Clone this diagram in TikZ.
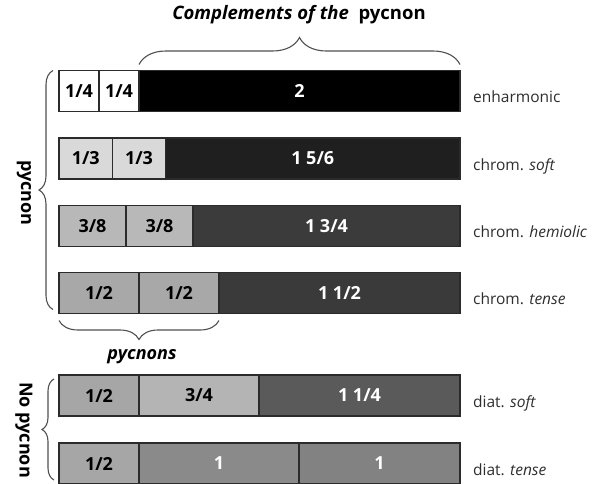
\documentclass[tikz,border=0pt]{standalone}
\usepackage{fontspec}
\setmainfont{Open Sans}
\usetikzlibrary{positioning,decorations.pathreplacing}

\definecolor{segline}{HTML}{2B2B2B}
\definecolor{braceline}{HTML}{505050}
\definecolor{lbltext}{HTML}{2E2E2E}
\definecolor{softpyc}{HTML}{D9D9D9}
\definecolor{softrest}{HTML}{1F1F1F}
\definecolor{hempyc}{HTML}{B8B8B8}
\definecolor{hemrest}{HTML}{3B3B3B}
\definecolor{tensepyc}{HTML}{A8A8A8}
\definecolor{tenserest}{HTML}{3A3A3A}
\definecolor{diathalf}{HTML}{A6A6A6}
\definecolor{diatthree}{HTML}{B4B4B4}
\definecolor{diatrest}{HTML}{5A5A5A}
\definecolor{diatone}{HTML}{8A8A8A}
\definecolor{diattwo}{HTML}{828282}

\tikzset{
  seg/.style={draw=segline, line width=1.4pt, minimum height=41pt, inner sep=0pt,
    outer sep=0pt, anchor=west, font=\fontsize{18}{21}\selectfont\bfseries},
  darkseg/.style={seg, text=white},
  lbl/.style={anchor=base west, inner sep=0pt, text=lbltext, font=\fontsize{15.5}{18}\selectfont},
  side/.style={rotate=-90, font=\fontsize{18}{21}\selectfont\bfseries},
  brc/.style={decorate, decoration={brace, amplitude=#1}, draw=braceline, line width=1.1pt},
}

\begin{document}
\begin{tikzpicture}[x=1pt,y=-1pt]
\useasboundingbox (0,0) rectangle (599,483);
% enharmonic
\node[seg, fill=white, minimum width=40pt] (e1) at (59,91) {1/4};
\node[seg, fill=white, minimum width=40pt, right=0pt of e1] (e2) {1/4};
\node[darkseg, fill=black, minimum width=321pt, right=0pt of e2] (e3) {2};
\node[lbl] (le) at ([shift={(13pt,9pt)}]e3.south east) {enharmonic};
% chromatic soft
\node[seg, fill=softpyc, minimum width=53.5pt] (s1) at (59,158.5) {1/3};
\node[seg, fill=softpyc, minimum width=53pt, right=0pt of s1] (s2) {1/3};
\node[darkseg, fill=softrest, minimum width=294.5pt, right=0pt of s2] (s3) {1 5/6};
\node[lbl] (ls) at ([shift={(13pt,9pt)}]s3.south east) {chrom. \textit{soft}};
% chromatic hemiolic
\node[seg, fill=hempyc, minimum width=67pt] (h1) at (59,226) {3/8};
\node[seg, fill=hempyc, minimum width=67pt, right=0pt of h1] (h2) {3/8};
\node[darkseg, fill=hemrest, minimum width=267pt, right=0pt of h2] (h3) {1 3/4};
\node[lbl] (lh) at ([shift={(13pt,9pt)}]h3.south east) {chrom. \textit{hemiolic}};
% chromatic tense
\node[seg, fill=tensepyc, minimum width=80pt] (t1) at (59,293) {1/2};
\node[seg, fill=tensepyc, minimum width=80pt, right=0pt of t1] (t2) {1/2};
\node[darkseg, fill=tenserest, minimum width=241pt, right=0pt of t2] (t3) {1 1/2};
\node[lbl] (lt) at ([shift={(13pt,9pt)}]t3.south east) {chrom. \textit{tense}};
% diatonic soft
\node[seg, fill=diathalf, minimum width=80pt] (d1) at (59,395.5) {1/2};
\node[seg, fill=diatthree, minimum width=120pt, right=0pt of d1] (d2) {3/4};
\node[darkseg, fill=diatrest, minimum width=201pt, right=0pt of d2] (d3) {1 1/4};
\node[lbl] (ld) at ([shift={(13pt,9pt)}]d3.south east) {diat. \textit{soft}};
% diatonic tense
\node[seg, fill=diathalf, minimum width=80pt] (g1) at (59,463.5) {1/2};
\node[darkseg, fill=diatone, minimum width=160pt, right=0pt of g1] (g2) {1};
\node[darkseg, fill=diattwo, minimum width=161pt, right=0pt of g2] (g3) {1};
\node[lbl] (lg) at ([shift={(13pt,9pt)}]g3.south east) {diat. \textit{tense}};
% braces
\draw[brc=27pt] ([yshift=6pt]e3.north west) -- ([yshift=6pt]e3.north east);
\node[font=\fontsize{18.5}{21}\selectfont\bfseries] (top) at (299,15) {\textit{Complements of the}\ \ pycnon};
\draw[brc=19pt] ([yshift=-7pt]t2.south east) -- ([yshift=-7pt]t1.south west);
\node[font=\fontsize{18}{21}\selectfont\bfseries\itshape] (pyc) at (142,357) {pycnons};
\draw[brc=14pt] ([shift={(-6pt,4pt)}]t1.south west) -- ([xshift=-6pt]e1.north west);
\node[side] (lp) at (24,193) {pycnon};
\draw[brc=12pt] ([shift={(-5pt,4pt)}]g1.south west) -- ([shift={(-5pt,-4pt)}]d1.north west);
\node[side] (lnp) at (24,430) {No pycnon};
\end{tikzpicture}
\end{document}
